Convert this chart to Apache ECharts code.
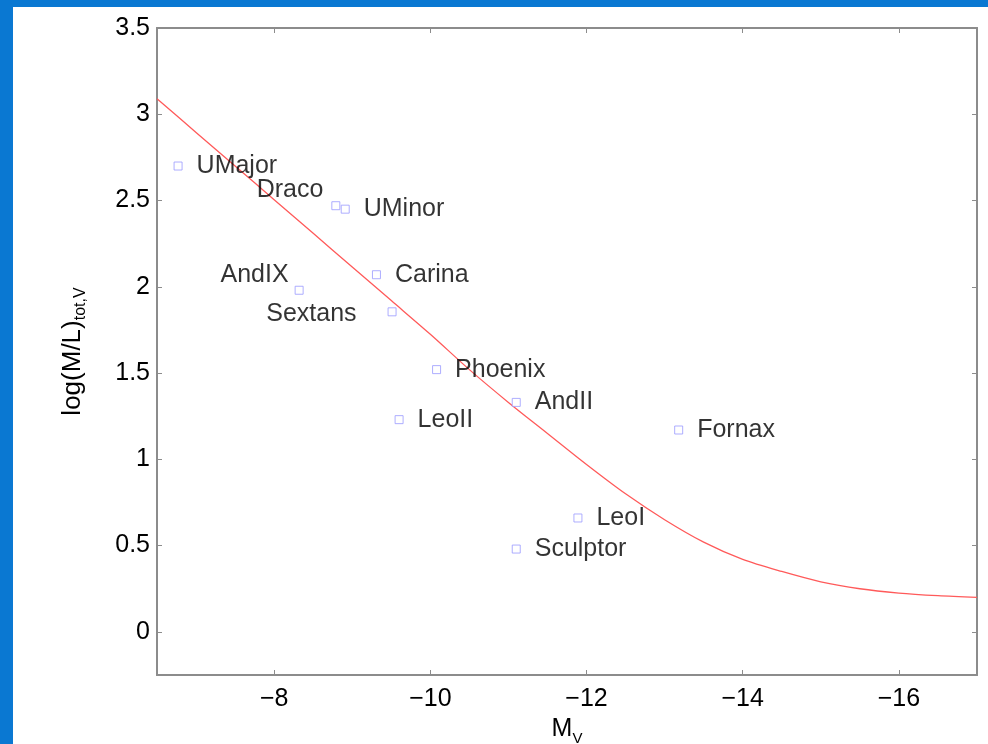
<!DOCTYPE html>
<html>
<head>
<meta charset="utf-8">
<script src="https://cdn.jsdelivr.net/npm/echarts@6/dist/echarts.min.js"></script>
<style>
  body { margin: 0; background: #0a78d2; }
  #paper { position: absolute; left: 13px; top: 7px; width: 975px; height: 737px; background: #fff; }
  #main { position: absolute; left: 0; top: 0; width: 988px; height: 744px; }
</style>
</head>
<body>
<div id="paper"></div>
<div id="main"></div>
<script>
// galaxies: absolute magnitude M_V vs log(M/L)
const galaxyNames = ['UMajor', 'Draco', 'UMinor', 'Carina', 'AndIX', 'Sextans', 'Phoenix', 'AndII', 'LeoII', 'Fornax', 'LeoI', 'Sculptor']
const galaxyMv = [-6.77, -8.79, -8.91, -9.31, -8.32, -9.51, -10.08, -11.10, -9.60, -13.18, -11.89, -11.10]
const galaxyLogML = [2.70, 2.47, 2.45, 2.07, 1.98, 1.855, 1.52, 1.33, 1.23, 1.17, 0.66, 0.48]

// model curve
const curveMv = [-6.5, -7, -7.5, -8, -8.5, -9, -9.5, -10, -10.5, -11, -11.5, -12, -12.5, -13, -13.5, -14, -14.5, -15, -15.5, -16, -16.5, -17]
const curveLogML = [3.09, 2.895, 2.70, 2.505, 2.31, 2.115, 1.92, 1.725, 1.52, 1.33, 1.15, 0.97, 0.80, 0.65, 0.52, 0.42, 0.35, 0.29, 0.25, 0.225, 0.21, 0.20]

const xTicks = [-8, -10, -12, -14, -16]
const yTicks = [0, 0.5, 1, 1.5, 2, 2.5, 3, 3.5]

// where each label sits relative to its marker
const labelPlace = {
  Draco: { position: 'left', distance: 8, offset: [0, -16] },
  AndIX: { position: 'left', distance: 6, offset: [0, -15] },
  Sextans: { position: 'left', distance: 31, offset: [0, 2] }
}

const font = 'Liberation Sans, Arial, Helvetica, sans-serif'
const frame = '#8c8c8c'

const chart = echarts.init(document.getElementById('main'))

const fmtX = v => String(v).replace('-', '\u2212')

chart.setOption({
  animation: false,
  backgroundColor: 'transparent',
  grid: {
    left: 157, top: 28, right: 11, bottom: 69,
    outerBoundsMode: 'none', containLabel: false,
    show: true, borderColor: frame, borderWidth: 1.5
  },
  xAxis: [
    {
      type: 'value', min: -17, max: -6.5, inverse: true,
      name: '{a|M}{s|V}', nameLocation: 'middle', nameGap: 31,
      nameTextStyle: {
        rich: {
          a: { fontSize: 25, fontFamily: font, color: '#000' },
          s: { fontSize: 15, fontFamily: font, color: '#000', padding: [18, 0, 0, 0] }
        }
      },
      splitLine: { show: false },
      axisLine: { onZero: false, lineStyle: { color: frame, width: 2 } },
      axisTick: { inside: true, length: 5, lineStyle: { color: frame }, customValues: xTicks },
      axisLabel: { customValues: xTicks, formatter: fmtX, fontSize: 25, fontFamily: font, color: '#000', margin: 12 }
    },
    {
      type: 'value', min: -17, max: -6.5, inverse: true, position: 'top',
      splitLine: { show: false },
      axisLine: { onZero: false, lineStyle: { color: frame, width: 2 } },
      axisTick: { inside: true, length: 5, lineStyle: { color: frame }, customValues: xTicks },
      axisLabel: { show: false }
    }
  ],
  yAxis: [
    {
      type: 'value', min: -0.25, max: 3.5,
      name: '{a|log(M/L)}{s|tot,V}', nameLocation: 'middle', nameGap: 68, nameRotate: 90,
      nameTextStyle: {
        rich: {
          a: { fontSize: 26, fontFamily: font, color: '#000' },
          s: { fontSize: 16, fontFamily: font, color: '#000', padding: [16, 0, 0, 0] }
        }
      },
      splitLine: { show: false },
      axisLine: { onZero: false, lineStyle: { color: frame, width: 2 } },
      axisTick: { inside: true, length: 5, lineStyle: { color: frame }, customValues: yTicks },
      axisLabel: { customValues: yTicks, fontSize: 25, fontFamily: font, color: '#000', margin: 7 }
    },
    {
      type: 'value', min: -0.25, max: 3.5, position: 'right',
      splitLine: { show: false },
      axisLine: { onZero: false, lineStyle: { color: frame, width: 2 } },
      axisTick: { inside: true, length: 5, lineStyle: { color: frame }, customValues: yTicks },
      axisLabel: { show: false }
    }
  ],
  series: [
    {
      type: 'line',
      data: curveMv.map((x, i) => [x, curveLogML[i]]),
      smooth: 0.3,
      showSymbol: false,
      lineStyle: { color: '#ff5a5a', width: 1.3 },
      z: 2
    },
    {
      type: 'scatter',
      symbol: 'rect',
      symbolSize: 8,
      itemStyle: { color: '#fff', borderColor: '#9a9aff', borderWidth: 1 },
      data: galaxyNames.map((n, i) => ({
        name: n,
        value: [galaxyMv[i], galaxyLogML[i]],
        label: labelPlace[n] || {}
      })),
      label: {
        show: true, position: 'right', distance: 14,
        formatter: p => p.name,
        fontSize: 25, fontFamily: font, color: '#000'
      },
      z: 3
    }
  ]
})
</script>
</body>
</html>
